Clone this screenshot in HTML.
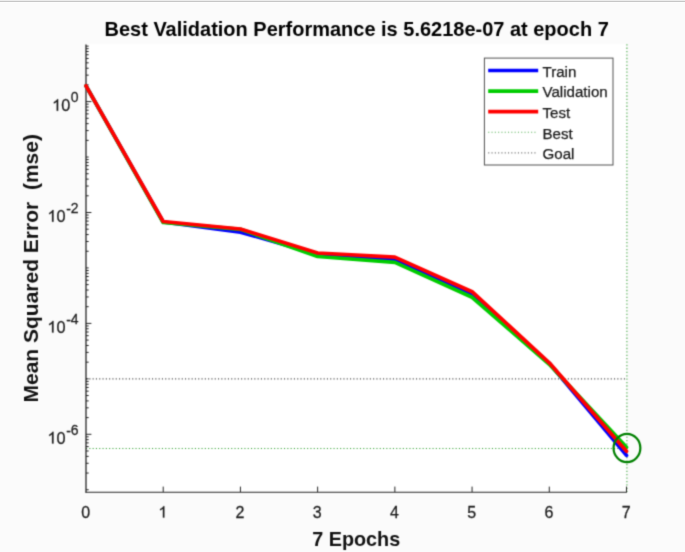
<!DOCTYPE html>
<html><head><meta charset="utf-8"><title>Performance</title>
<style>html,body{margin:0;padding:0;background:#fbfbfb;width:685px;height:552px;overflow:hidden;font-family:"Liberation Sans",sans-serif}</style>
</head><body>
<svg width="685" height="552" viewBox="0 0 685 552" style="display:block;font-family:'Liberation Sans',sans-serif"><defs><filter id="bl" filterUnits="userSpaceOnUse" x="0" y="0" width="685" height="552" color-interpolation-filters="sRGB"><feConvolveMatrix order="3" kernelMatrix="1 4 1 4 16 4 1 4 1" edgeMode="duplicate"/></filter></defs><g filter="url(#bl)"><rect x="0" y="0" width="685" height="552" fill="#fbfbfb"/>
<rect x="86.0" y="43.6" width="540.5" height="448.4" fill="#ffffff"/>
<line x1="86.0" y1="378.85" x2="626.5" y2="378.85" stroke="#000" stroke-opacity="0.7" stroke-width="1.1" stroke-dasharray="1.1 2.2" />
<line x1="86.0" y1="448.50" x2="626.5" y2="448.50" stroke="#008a00" stroke-opacity="0.8" stroke-width="1.1" stroke-dasharray="1.1 2.2" />
<line x1="626.9" y1="44.2" x2="626.9" y2="492.0" stroke="#008a00" stroke-opacity="0.6" stroke-width="1.3" stroke-dasharray="1.3 2.1116" />
<line x1="86.0" y1="44.4" x2="86.0" y2="492.6" stroke="#262626" stroke-width="1.3"/>
<line x1="85.4" y1="492.2" x2="627.0" y2="492.2" stroke="#262626" stroke-width="1.1"/>
<line x1="163.21" y1="492.0" x2="163.21" y2="486.6" stroke="#262626" stroke-width="1"/>
<line x1="240.43" y1="492.0" x2="240.43" y2="486.6" stroke="#262626" stroke-width="1"/>
<line x1="317.64" y1="492.0" x2="317.64" y2="486.6" stroke="#262626" stroke-width="1"/>
<line x1="394.86" y1="492.0" x2="394.86" y2="486.6" stroke="#262626" stroke-width="1"/>
<line x1="472.07" y1="492.0" x2="472.07" y2="486.6" stroke="#262626" stroke-width="1"/>
<line x1="549.29" y1="492.0" x2="549.29" y2="486.6" stroke="#262626" stroke-width="1"/>
<line x1="626.50" y1="492.0" x2="626.50" y2="486.6" stroke="#262626" stroke-width="1"/>
<line x1="86.0" y1="489.75" x2="88.7" y2="489.75" stroke="#262626" stroke-width="1"/>
<line x1="86.0" y1="473.06" x2="88.7" y2="473.06" stroke="#262626" stroke-width="1"/>
<line x1="86.0" y1="463.29" x2="88.7" y2="463.29" stroke="#262626" stroke-width="1"/>
<line x1="86.0" y1="456.37" x2="88.7" y2="456.37" stroke="#262626" stroke-width="1"/>
<line x1="86.0" y1="450.99" x2="88.7" y2="450.99" stroke="#262626" stroke-width="1"/>
<line x1="86.0" y1="446.60" x2="88.7" y2="446.60" stroke="#262626" stroke-width="1"/>
<line x1="86.0" y1="442.89" x2="88.7" y2="442.89" stroke="#262626" stroke-width="1"/>
<line x1="86.0" y1="439.67" x2="88.7" y2="439.67" stroke="#262626" stroke-width="1"/>
<line x1="86.0" y1="436.84" x2="88.7" y2="436.84" stroke="#262626" stroke-width="1"/>
<line x1="86.0" y1="434.30" x2="91.4" y2="434.30" stroke="#262626" stroke-width="1"/>
<line x1="86.0" y1="417.61" x2="88.7" y2="417.61" stroke="#262626" stroke-width="1"/>
<line x1="86.0" y1="407.84" x2="88.7" y2="407.84" stroke="#262626" stroke-width="1"/>
<line x1="86.0" y1="400.92" x2="88.7" y2="400.92" stroke="#262626" stroke-width="1"/>
<line x1="86.0" y1="395.54" x2="88.7" y2="395.54" stroke="#262626" stroke-width="1"/>
<line x1="86.0" y1="391.15" x2="88.7" y2="391.15" stroke="#262626" stroke-width="1"/>
<line x1="86.0" y1="387.44" x2="88.7" y2="387.44" stroke="#262626" stroke-width="1"/>
<line x1="86.0" y1="384.22" x2="88.7" y2="384.22" stroke="#262626" stroke-width="1"/>
<line x1="86.0" y1="381.39" x2="88.7" y2="381.39" stroke="#262626" stroke-width="1"/>
<line x1="86.0" y1="378.85" x2="88.7" y2="378.85" stroke="#262626" stroke-width="1"/>
<line x1="86.0" y1="362.16" x2="88.7" y2="362.16" stroke="#262626" stroke-width="1"/>
<line x1="86.0" y1="352.39" x2="88.7" y2="352.39" stroke="#262626" stroke-width="1"/>
<line x1="86.0" y1="345.47" x2="88.7" y2="345.47" stroke="#262626" stroke-width="1"/>
<line x1="86.0" y1="340.09" x2="88.7" y2="340.09" stroke="#262626" stroke-width="1"/>
<line x1="86.0" y1="335.70" x2="88.7" y2="335.70" stroke="#262626" stroke-width="1"/>
<line x1="86.0" y1="331.99" x2="88.7" y2="331.99" stroke="#262626" stroke-width="1"/>
<line x1="86.0" y1="328.77" x2="88.7" y2="328.77" stroke="#262626" stroke-width="1"/>
<line x1="86.0" y1="325.94" x2="88.7" y2="325.94" stroke="#262626" stroke-width="1"/>
<line x1="86.0" y1="323.40" x2="91.4" y2="323.40" stroke="#262626" stroke-width="1"/>
<line x1="86.0" y1="306.71" x2="88.7" y2="306.71" stroke="#262626" stroke-width="1"/>
<line x1="86.0" y1="296.94" x2="88.7" y2="296.94" stroke="#262626" stroke-width="1"/>
<line x1="86.0" y1="290.02" x2="88.7" y2="290.02" stroke="#262626" stroke-width="1"/>
<line x1="86.0" y1="284.64" x2="88.7" y2="284.64" stroke="#262626" stroke-width="1"/>
<line x1="86.0" y1="280.25" x2="88.7" y2="280.25" stroke="#262626" stroke-width="1"/>
<line x1="86.0" y1="276.54" x2="88.7" y2="276.54" stroke="#262626" stroke-width="1"/>
<line x1="86.0" y1="273.32" x2="88.7" y2="273.32" stroke="#262626" stroke-width="1"/>
<line x1="86.0" y1="270.49" x2="88.7" y2="270.49" stroke="#262626" stroke-width="1"/>
<line x1="86.0" y1="267.95" x2="88.7" y2="267.95" stroke="#262626" stroke-width="1"/>
<line x1="86.0" y1="251.26" x2="88.7" y2="251.26" stroke="#262626" stroke-width="1"/>
<line x1="86.0" y1="241.49" x2="88.7" y2="241.49" stroke="#262626" stroke-width="1"/>
<line x1="86.0" y1="234.57" x2="88.7" y2="234.57" stroke="#262626" stroke-width="1"/>
<line x1="86.0" y1="229.19" x2="88.7" y2="229.19" stroke="#262626" stroke-width="1"/>
<line x1="86.0" y1="224.80" x2="88.7" y2="224.80" stroke="#262626" stroke-width="1"/>
<line x1="86.0" y1="221.09" x2="88.7" y2="221.09" stroke="#262626" stroke-width="1"/>
<line x1="86.0" y1="217.87" x2="88.7" y2="217.87" stroke="#262626" stroke-width="1"/>
<line x1="86.0" y1="215.04" x2="88.7" y2="215.04" stroke="#262626" stroke-width="1"/>
<line x1="86.0" y1="212.50" x2="91.4" y2="212.50" stroke="#262626" stroke-width="1"/>
<line x1="86.0" y1="195.81" x2="88.7" y2="195.81" stroke="#262626" stroke-width="1"/>
<line x1="86.0" y1="186.04" x2="88.7" y2="186.04" stroke="#262626" stroke-width="1"/>
<line x1="86.0" y1="179.12" x2="88.7" y2="179.12" stroke="#262626" stroke-width="1"/>
<line x1="86.0" y1="173.74" x2="88.7" y2="173.74" stroke="#262626" stroke-width="1"/>
<line x1="86.0" y1="169.35" x2="88.7" y2="169.35" stroke="#262626" stroke-width="1"/>
<line x1="86.0" y1="165.64" x2="88.7" y2="165.64" stroke="#262626" stroke-width="1"/>
<line x1="86.0" y1="162.42" x2="88.7" y2="162.42" stroke="#262626" stroke-width="1"/>
<line x1="86.0" y1="159.59" x2="88.7" y2="159.59" stroke="#262626" stroke-width="1"/>
<line x1="86.0" y1="157.05" x2="88.7" y2="157.05" stroke="#262626" stroke-width="1"/>
<line x1="86.0" y1="140.36" x2="88.7" y2="140.36" stroke="#262626" stroke-width="1"/>
<line x1="86.0" y1="130.59" x2="88.7" y2="130.59" stroke="#262626" stroke-width="1"/>
<line x1="86.0" y1="123.67" x2="88.7" y2="123.67" stroke="#262626" stroke-width="1"/>
<line x1="86.0" y1="118.29" x2="88.7" y2="118.29" stroke="#262626" stroke-width="1"/>
<line x1="86.0" y1="113.90" x2="88.7" y2="113.90" stroke="#262626" stroke-width="1"/>
<line x1="86.0" y1="110.19" x2="88.7" y2="110.19" stroke="#262626" stroke-width="1"/>
<line x1="86.0" y1="106.97" x2="88.7" y2="106.97" stroke="#262626" stroke-width="1"/>
<line x1="86.0" y1="104.14" x2="88.7" y2="104.14" stroke="#262626" stroke-width="1"/>
<line x1="86.0" y1="101.60" x2="91.4" y2="101.60" stroke="#262626" stroke-width="1"/>
<line x1="86.0" y1="84.91" x2="88.7" y2="84.91" stroke="#262626" stroke-width="1"/>
<line x1="86.0" y1="75.14" x2="88.7" y2="75.14" stroke="#262626" stroke-width="1"/>
<line x1="86.0" y1="68.22" x2="88.7" y2="68.22" stroke="#262626" stroke-width="1"/>
<line x1="86.0" y1="62.84" x2="88.7" y2="62.84" stroke="#262626" stroke-width="1"/>
<line x1="86.0" y1="58.45" x2="88.7" y2="58.45" stroke="#262626" stroke-width="1"/>
<line x1="86.0" y1="54.74" x2="88.7" y2="54.74" stroke="#262626" stroke-width="1"/>
<line x1="86.0" y1="51.52" x2="88.7" y2="51.52" stroke="#262626" stroke-width="1"/>
<line x1="86.0" y1="48.69" x2="88.7" y2="48.69" stroke="#262626" stroke-width="1"/>
<line x1="86.0" y1="46.15" x2="88.7" y2="46.15" stroke="#262626" stroke-width="1"/>
<polyline points="86.00,85.80 163.21,222.00 240.43,232.10 317.64,254.20 394.86,259.50 472.07,294.60 549.29,363.30 626.50,455.40" fill="none" stroke="#0000ff" stroke-width="3.7" stroke-linejoin="round" stroke-linecap="round"/>
<polyline points="86.00,85.80 163.21,222.50 240.43,229.30 317.64,256.50 394.86,262.40 472.07,297.30 549.29,364.30 626.50,447.30" fill="none" stroke="#00cc00" stroke-width="3.7" stroke-linejoin="round" stroke-linecap="round"/>
<polyline points="86.00,85.80 163.21,221.50 240.43,229.00 317.64,253.00 394.86,257.10 472.07,291.70 549.29,362.80 626.50,451.30" fill="none" stroke="#ff0000" stroke-width="3.7" stroke-linejoin="round" stroke-linecap="round"/>
<ellipse cx="626.95" cy="448.00" rx="13.4" ry="14.2" fill="none" stroke="#008000" stroke-width="2.2"/>
<text x="0" y="0" transform="translate(85.60,517.6) scale(1,1.05)" font-size="16" fill="#1a1a1a" stroke="#1a1a1a" stroke-width="0.25" text-anchor="middle">0</text>
<path d="M763,0 L583,0 L583,1147 C540,1106 483,1064 413,1023 C342,982 279,951 223,930 L223,1104 C324,1151 412,1208 487,1275 C562,1342 615,1406 646,1466 L763,1466 Z" transform="translate(158.37,517.60) scale(0.00781,-0.00781)" fill="#1a1a1a" stroke="#1a1a1a" stroke-width="32.0"/>
<text x="0" y="0" transform="translate(240.03,517.6) scale(1,1.05)" font-size="16" fill="#1a1a1a" stroke="#1a1a1a" stroke-width="0.25" text-anchor="middle">2</text>
<text x="0" y="0" transform="translate(317.24,517.6) scale(1,1.05)" font-size="16" fill="#1a1a1a" stroke="#1a1a1a" stroke-width="0.25" text-anchor="middle">3</text>
<text x="0" y="0" transform="translate(394.46,517.6) scale(1,1.05)" font-size="16" fill="#1a1a1a" stroke="#1a1a1a" stroke-width="0.25" text-anchor="middle">4</text>
<text x="0" y="0" transform="translate(471.67,517.6) scale(1,1.05)" font-size="16" fill="#1a1a1a" stroke="#1a1a1a" stroke-width="0.25" text-anchor="middle">5</text>
<text x="0" y="0" transform="translate(548.89,517.6) scale(1,1.05)" font-size="16" fill="#1a1a1a" stroke="#1a1a1a" stroke-width="0.25" text-anchor="middle">6</text>
<text x="0" y="0" transform="translate(626.10,517.6) scale(1,1.05)" font-size="16" fill="#1a1a1a" stroke="#1a1a1a" stroke-width="0.25" text-anchor="middle">7</text>
<path d="M763,0 L583,0 L583,1147 C540,1106 483,1064 413,1023 C342,982 279,951 223,930 L223,1104 C324,1151 412,1208 487,1275 C562,1342 615,1406 646,1466 L763,1466 Z" transform="translate(52.08,110.80) scale(0.00796,-0.00796)" fill="#1a1a1a" stroke="#1a1a1a" stroke-width="31.4"/>
<text x="0" y="0" transform="translate(61.15,110.80) scale(1,1.05)" font-size="16.3" fill="#1a1a1a" stroke="#1a1a1a" stroke-width="0.25">0<tspan dx="0.5" font-size="14" dy="-8.48">0</tspan></text>
<path d="M763,0 L583,0 L583,1147 C540,1106 483,1064 413,1023 C342,982 279,951 223,930 L223,1104 C324,1151 412,1208 487,1275 C562,1342 615,1406 646,1466 L763,1466 Z" transform="translate(47.42,221.70) scale(0.00796,-0.00796)" fill="#1a1a1a" stroke="#1a1a1a" stroke-width="31.4"/>
<text x="0" y="0" transform="translate(56.49,221.70) scale(1,1.05)" font-size="16.3" fill="#1a1a1a" stroke="#1a1a1a" stroke-width="0.25">0<tspan dx="0.7" font-size="14" dy="-7.24">-</tspan><tspan dx="-0.1" font-size="14" dy="-1.24">2</tspan></text>
<path d="M763,0 L583,0 L583,1147 C540,1106 483,1064 413,1023 C342,982 279,951 223,930 L223,1104 C324,1151 412,1208 487,1275 C562,1342 615,1406 646,1466 L763,1466 Z" transform="translate(47.42,332.60) scale(0.00796,-0.00796)" fill="#1a1a1a" stroke="#1a1a1a" stroke-width="31.4"/>
<text x="0" y="0" transform="translate(56.49,332.60) scale(1,1.05)" font-size="16.3" fill="#1a1a1a" stroke="#1a1a1a" stroke-width="0.25">0<tspan dx="0.7" font-size="14" dy="-7.24">-</tspan><tspan dx="-0.1" font-size="14" dy="-1.24">4</tspan></text>
<path d="M763,0 L583,0 L583,1147 C540,1106 483,1064 413,1023 C342,982 279,951 223,930 L223,1104 C324,1151 412,1208 487,1275 C562,1342 615,1406 646,1466 L763,1466 Z" transform="translate(47.42,443.50) scale(0.00796,-0.00796)" fill="#1a1a1a" stroke="#1a1a1a" stroke-width="31.4"/>
<text x="0" y="0" transform="translate(56.49,443.50) scale(1,1.05)" font-size="16.3" fill="#1a1a1a" stroke="#1a1a1a" stroke-width="0.25">0<tspan dx="0.7" font-size="14" dy="-7.24">-</tspan><tspan dx="-0.1" font-size="14" dy="-1.24">6</tspan></text>
<text x="0" y="0" transform="translate(356.65,35.5) scale(1,1.045)" font-size="20.0" font-weight="bold" fill="#000" text-anchor="middle">Best Validation Performance is 5.6218e-07 at epoch 7</text>
<text x="356.25" y="545.5" font-size="19.8" font-weight="bold" fill="#111" text-anchor="middle">7 Epochs</text>
<text x="0" y="0" transform="translate(37.6,268.3) rotate(-90)" font-size="21.0" font-weight="bold" fill="#111" text-anchor="middle" xml:space="preserve">Mean Squared Error  (mse)</text>
<rect x="484.4" y="58.1" width="128.60000000000002" height="106.9" fill="#fff" stroke="#262626" stroke-opacity="0.8" stroke-width="1"/>
<line x1="488.2" y1="70.50" x2="538.2" y2="70.50" stroke="#0000ff" stroke-width="3.7"/>
<text x="542.5" y="76.80" font-size="15.1" fill="#1a1a1a" stroke="#1a1a1a" stroke-width="0.25">Train</text>
<line x1="488.2" y1="91.10" x2="538.2" y2="91.10" stroke="#00cc00" stroke-width="3.7"/>
<text x="542.5" y="97.40" font-size="15.1" fill="#1a1a1a" stroke="#1a1a1a" stroke-width="0.25">Validation</text>
<line x1="488.2" y1="111.70" x2="538.2" y2="111.70" stroke="#ff0000" stroke-width="3.7"/>
<text x="542.5" y="118.00" font-size="15.1" fill="#1a1a1a" stroke="#1a1a1a" stroke-width="0.25">Test</text>
<line x1="488.2" y1="132.30" x2="536.2" y2="132.30" stroke="#008a00" stroke-opacity="0.65" stroke-width="1.1" stroke-dasharray="1.1 2.2"/>
<text x="542.5" y="138.60" font-size="15.1" fill="#1a1a1a" stroke="#1a1a1a" stroke-width="0.25">Best</text>
<line x1="488.2" y1="152.90" x2="536.2" y2="152.90" stroke="#000" stroke-opacity="0.55" stroke-width="1.1" stroke-dasharray="1.1 2.2"/>
<text x="542.5" y="159.20" font-size="15.1" fill="#1a1a1a" stroke="#1a1a1a" stroke-width="0.25">Goal</text></g><rect x="0" y="0" width="685" height="1" fill="#ececec"/><rect x="0" y="1" width="685" height="1" fill="#c6c6c6"/><rect x="0" y="2" width="685" height="1" fill="#fdfdfd"/></svg>
</body></html>
